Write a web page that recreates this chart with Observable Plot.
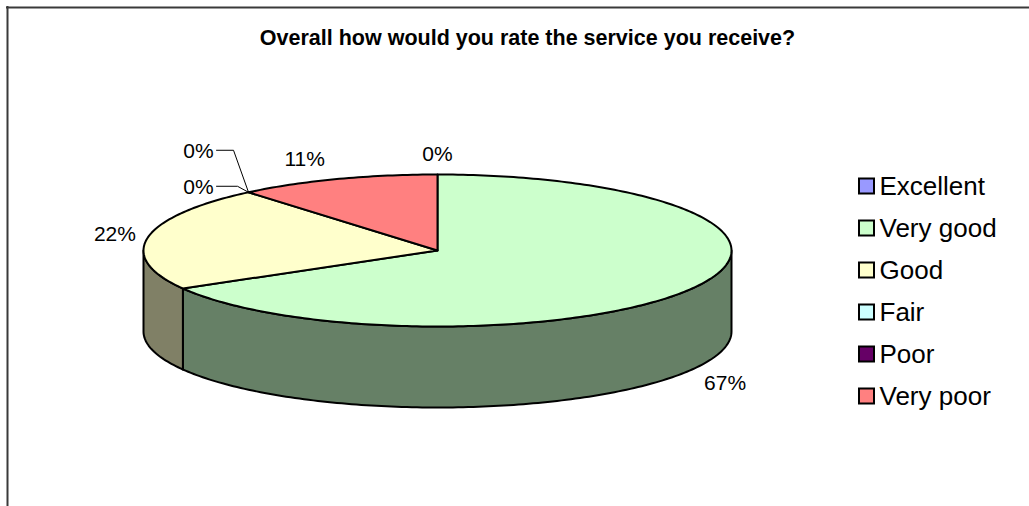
<!DOCTYPE html>
<html>
<head>
<meta charset="utf-8">
<script src="https://cdn.jsdelivr.net/npm/d3@7"></script>
<script src="https://cdn.jsdelivr.net/npm/@observablehq/plot@0.6"></script>
<style>
  html, body { margin: 0; padding: 0; background: #fff; overflow: hidden; }
  svg { display: block; font-family: "Liberation Sans", Arial, sans-serif; }
</style>
</head>
<body>
<div id="chart"></div>
<script>
// ---- data ----
const title = "Overall how would you rate the service you receive?";
const categories = ["Excellent", "Very good", "Good", "Fair", "Poor", "Very poor"];
const responses = [0, 6, 2, 0, 0, 1];
const topColors = ["#9999FF", "#CCFFCC", "#FFFFCC", "#CCFFFF", "#660066", "#FF8080"];
const sideColors = ["#4d4d80", "#668066", "#808066", "#668080", "#330033", "#804040"];

// ---- geometry of the tilted pie ----
const W = 1029, H = 506;
const cx = 437, cy = 250, rx = 294, ry = 76, depth = 81;
const total = d3.sum(responses);
const pct = responses.map(v => Math.round(v / total * 100) + "%");

const P = (t, drop = 0) => ({x: cx + rx * Math.sin(t), y: cy - ry * Math.cos(t) + drop});
const arc = (a, b, drop = 0) => {
  const n = Math.max(2, Math.ceil(Math.abs(b - a) / (Math.PI / 180)));
  return d3.range(n + 1).map(i => P(a + (b - a) * i / n, drop));
};

let acc = 0;
const slices = categories.map((c, i) => {
  const a = acc / total * 2 * Math.PI;
  acc += responses[i];
  const b = acc / total * 2 * Math.PI;
  return {c, i, a, b, v: responses[i]};
});

const marks = [];

// frame
marks.push(Plot.ruleY([7], {x1: 6, x2: W, stroke: "#3a3a3a", strokeWidth: 2}));
marks.push(Plot.ruleX([7], {y1: 6, y2: H, stroke: "#3a3a3a", strokeWidth: 2}));

// side walls (front half: 90deg..270deg)
for (const s of slices) {
  if (s.v === 0) continue;
  const a = Math.max(s.a, Math.PI / 2), b = Math.min(s.b, 3 * Math.PI / 2);
  if (b <= a) continue;
  const poly = [...arc(a, b), ...arc(b, a, depth)];
  marks.push(Plot.line(poly, {x: "x", y: "y", fill: sideColors[s.i], stroke: "black", strokeWidth: 2, curve: "linear-closed", strokeLinejoin: "round"}));
}
// top faces
for (const s of slices) {
  if (s.v === 0) continue;
  const poly = [{x: cx, y: cy}, ...arc(s.a, s.b), {x: cx, y: cy}];
  marks.push(Plot.line(poly, {x: "x", y: "y", fill: topColors[s.i], stroke: "black", strokeWidth: 2, curve: "linear-closed", strokeLinejoin: "round"}));
}

// data labels
const fs = 21;
const labels = [];
const leaders = [];
const groups = d3.group(slices, s => s.v === 0 ? s.a.toFixed(4) : "s" + s.i);
for (const [, grp] of groups) {
  grp.forEach((s, k) => {
    const m = (s.a + s.b) / 2;
    const sn = Math.sin(m), cs = Math.cos(m);
    const p = P(m, cs < -0.01 ? depth : 0);
    if (grp.length > 1) {
      // stacked labels with leader lines for coinciding zero slices
      const lx = p.x - 50, ly = p.y - 5 - (grp.length - 1 - k) * 36;
      labels.push({text: pct[s.i], x: lx, y: ly, anchor: "middle"});
      leaders.push({id: s.i, x: lx + 18, y: ly - 1}, {id: s.i, x: lx + 35 + 4 * k, y: ly - 1}, {id: s.i, x: p.x, y: p.y});
      return;
    }
    const qx = p.x + (sn > 0.25 ? 12 : sn < -0.25 ? -12 : 0);
    const qy = p.y - 6 * cs;
    const anchor = sn > 0.25 ? "start" : sn < -0.25 ? "end" : "middle";
    const y = cs > 0.45 ? qy - fs * 0.5 - 4 : cs < -0.45 ? qy + fs * 0.5 : qy - 2;
    labels.push({text: pct[s.i], x: qx, y, anchor});
  });
}
marks.push(Plot.line(leaders, {x: "x", y: "y", z: "id", stroke: "black", strokeWidth: 1}));
for (const an of ["start", "middle", "end"]) {
  marks.push(Plot.text(labels.filter(l => l.anchor === an), {x: "x", y: "y", text: "text", textAnchor: an, fontSize: fs, fill: "black"}));
}

// title
marks.push(Plot.text([title], {x: 527, y: 38, text: d => d, fontSize: 21.5, fontWeight: "bold", fill: "black"}));

// legend
const leg = categories.map((c, i) => ({c, i, y: 186 + i * 42}));
marks.push(Plot.rect(leg, {x1: 859, x2: 874, y1: d => d.y - 7.5, y2: d => d.y + 7.5, fill: d => topColors[d.i], stroke: "black", strokeWidth: 2}));
marks.push(Plot.text(leg, {x: 879, y: "y", text: "c", textAnchor: "start", fontSize: 26, fill: "black"}));

const chart = Plot.plot({
  width: W, height: H,
  margin: 0,
  x: {domain: [0, W], range: [0, W], axis: null},
  y: {domain: [0, H], range: [0, H], axis: null},
  style: {background: "white", fontFamily: "Liberation Sans, Arial, sans-serif"},
  marks
});
document.getElementById("chart").appendChild(chart);
</script>
</body>
</html>
